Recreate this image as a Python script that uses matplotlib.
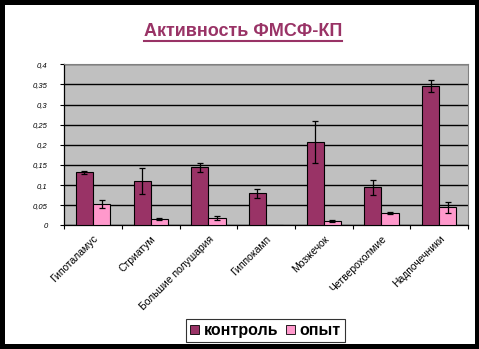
import matplotlib
matplotlib.use("Agg")
import matplotlib.pyplot as plt
from matplotlib.patches import Rectangle
from matplotlib.lines import Line2D
from matplotlib.transforms import ScaledTranslation
import numpy as np

categories = ["Гипоталамус", "Стриатум", "Большие полушария", "Гиппокамп",
              "Мозжечок", "Четверохолмие", "Надпочечники"]
control = [0.132, 0.110, 0.144, 0.080, 0.206, 0.094, 0.345]
control_err = [0.004, 0.033, 0.011, 0.011, 0.052, 0.018, 0.015]
experiment = [0.052, 0.015, 0.018, 0.0, 0.011, 0.030, 0.045]
experiment_err = [0.010, 0.002, 0.006, 0.0, 0.002, 0.003, 0.014]
yticks = [0, 0.05, 0.1, 0.15, 0.2, 0.25, 0.3, 0.35, 0.4]
ytick_labels = ["0", "0,05", "0,1", "0,15", "0,2", "0,25", "0,3", "0,35", "0,4"]
series_names = ["контроль", "опыт"]
title = "Активность ФМСФ-КП"

W, H = 479, 349
fig = plt.figure(figsize=(W / 100, H / 100), dpi=100, facecolor="black")
fig.patches.append(Rectangle((5 / W, 5 / H), 470 / W, 339 / H,
                             transform=fig.transFigure, facecolor="white",
                             edgecolor="none", zorder=-5))

ax = fig.add_axes([64.3 / W, 1 - 225.3 / H, (468 - 64.3) / W, (225.3 - 64.3) / H])
ax.set_zorder(2)
ax.set_facecolor("#C0C0C0")

x = np.arange(len(categories))
bw = 0.3
ekw = dict(ecolor="black", elinewidth=0.9, capsize=2.2, capthick=0.9)
ax.bar(x - bw / 2, control, bw, color="#993366", edgecolor="black",
       linewidth=0.8, zorder=3)
ax.errorbar(x - bw / 2, control, yerr=control_err, fmt="none", zorder=4, **ekw)
ax.bar(x + bw / 2, experiment, bw, color="#FF99CC", edgecolor="black",
       linewidth=0.8, zorder=3)
exp_x = [xi + bw / 2 for xi, v in zip(x, experiment) if v > 0]
exp_v = [v for v in experiment if v > 0]
exp_e = [e for v, e in zip(experiment, experiment_err) if v > 0]
ax.errorbar(exp_x, exp_v, yerr=exp_e, fmt="none", zorder=4, **ekw)

ax.set_xlim(-0.5, len(categories) - 0.5)
ax.set_ylim(0, 0.4)
ax.set_yticks(yticks)
ax.set_yticklabels(ytick_labels, fontsize=5.5, fontstyle="italic",
                   family="Liberation Sans")
ax.yaxis.grid(True, color="black", linewidth=1.0, zorder=1)
ax.set_axisbelow(True)

ax.set_xticks(np.arange(len(categories) + 1) - 0.5)
ax.set_xticklabels([])
ax.set_xticks(x, minor=True)
ax.set_xticklabels(categories, minor=True, rotation=45, ha="right",
                   va="top", rotation_mode="anchor", fontsize=7.5,
                   family="Liberation Sans")
shift = ScaledTranslation(-12 / 100, -13 / 100, fig.dpi_scale_trans)
for lbl in ax.get_xticklabels(minor=True):
    lbl.set_transform(lbl.get_transform() + shift)
ax.tick_params(axis="x", which="minor", length=0, pad=6)
ax.tick_params(axis="x", which="major", length=3, width=0.8, direction="out")
ax.tick_params(axis="y", length=3, width=0.8, direction="out", pad=9)

for side in ("top", "right"):
    ax.spines[side].set_color("#808080")
    ax.spines[side].set_linewidth(0.8)
for side in ("left", "bottom"):
    ax.spines[side].set_color("black")
    ax.spines[side].set_linewidth(0.9)

t = fig.text(243 / W, 1 - 31 / H, title, ha="center", va="center",
             fontsize=13, fontweight="bold", color="#993366",
             family="Liberation Sans")
fig.canvas.draw()
bb = t.get_window_extent()
fig.add_artist(Line2D([bb.x0 / W, bb.x1 / W], [1 - 40.5 / H, 1 - 40.5 / H],
                      transform=fig.transFigure, color="#993366", linewidth=1.5))

handles = [Rectangle((0, 0), 1, 1, facecolor="#993366", edgecolor="black", linewidth=0.6),
           Rectangle((0, 0), 1, 1, facecolor="#FF99CC", edgecolor="black", linewidth=0.6)]
leg = fig.legend(handles, series_names, loc="center",
                 bbox_to_anchor=(265.5 / W, 1 - 330.5 / H), ncol=2,
                 prop=dict(family="Liberation Sans", weight="bold", size=11.5),
                 frameon=True, fancybox=False, edgecolor="black",
                 handlelength=0.55, handleheight=0.55, handletextpad=0.3,
                 columnspacing=0.5, borderpad=0.25, borderaxespad=0)
leg.get_frame().set_linewidth(0.8)

fig.savefig("out.png", dpi=100, facecolor="black")
